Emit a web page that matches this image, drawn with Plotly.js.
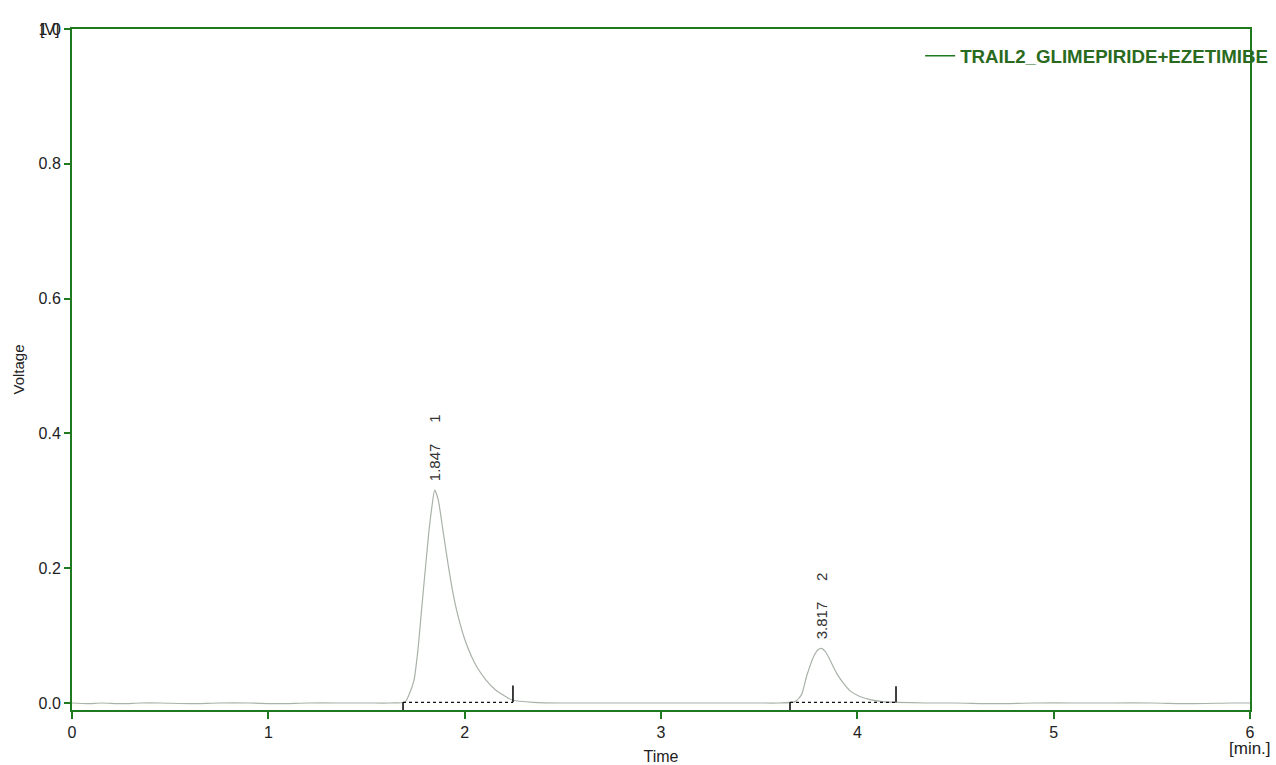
<!DOCTYPE html>
<html>
<head>
<meta charset="utf-8">
<script src="https://cdn.plot.ly/plotly-3.0.1.min.js"></script>
<style>html,body{margin:0;padding:0;background:#fff;}#chart{width:1276px;height:765px;}</style>
</head>
<body>
<div id="chart"></div>
<script>
// Chromatogram trace (time in min, voltage in V)
var timeMin = [0, 0.08, 0.15, 0.25, 0.35, 0.45, 0.6, 0.75, 0.9, 1.05, 1.2, 1.35, 1.5, 1.62,
  1.696, 1.716, 1.742, 1.762, 1.781, 1.800, 1.818, 1.834, 1.847, 1.865, 1.890, 1.916, 1.946,
  1.976, 2.002, 2.035, 2.063, 2.109, 2.155, 2.206, 2.246, 2.35, 2.5, 2.7, 2.9, 3.1, 3.3, 3.5,
  3.6, 3.683, 3.715, 3.742, 3.776, 3.800, 3.817, 3.835, 3.852, 3.895, 3.930, 3.963, 4.010,
  4.065, 4.130, 4.197, 4.35, 4.5, 4.7, 4.9, 5.1, 5.3, 5.5, 5.7, 5.9, 6.0];
var voltage = [0.000, -0.001, 0.000, -0.001, 0.000, 0.000, -0.001, 0.000, 0.000, -0.001, 0.000, 0.000, 0.000, 0.000,
  0.0015, 0.012, 0.034, 0.079, 0.140, 0.200, 0.255, 0.293, 0.316, 0.302, 0.255, 0.205, 0.155,
  0.118, 0.093, 0.069, 0.053, 0.034, 0.020, 0.010, 0.004, 0.001, 0.000, 0.000, 0.000, 0.000, 0.000, 0.000,
  0.000, 0.002, 0.012, 0.040, 0.068, 0.079, 0.081, 0.077, 0.069, 0.044, 0.029, 0.018, 0.010,
  0.005, 0.002, 0.001, 0.000, 0.000, -0.001, 0.000, 0.000, 0.000, 0.000, -0.001, 0.000, 0.000];

// Peak table
var peakNumber = ["1", "2"];
var peakTime = [1.847, 3.817];
var peakHeight = [0.316, 0.081];
var peakStart = [1.686, 3.657];
var peakEnd = [2.246, 4.197];
var baselineLevel = [0.001, 0.001];
var startMarkLow = [-0.012, -0.012];
var endMarkHigh = [0.026, 0.025];

var seriesName = "TRAIL2_GLIMEPIRIDE+EZETIMIBE";
var xTicks = [0, 1, 2, 3, 4, 5, 6];
var yTicks = [0.0, 0.2, 0.4, 0.6, 0.8, 1.0];
var yTickText = ["0.0", "0.2", "0.4", "0.6", "0.8", "1.0"];

var green = "#1f7a1f";
var traces = [{
  x: timeMin, y: voltage, type: "scatter", mode: "lines",
  line: {color: "#a9b2a9", width: 1.2, shape: "spline", smoothing: 0.6},
  showlegend: false, hoverinfo: "skip"
}];
// integration baselines
for (var i = 0; i < peakTime.length; i++) {
  traces.push({
    x: [peakStart[i], peakEnd[i]], y: [baselineLevel[i], baselineLevel[i]],
    type: "scatter", mode: "lines",
    line: {color: "#111", width: 1.3, dash: "dot"}, showlegend: false, hoverinfo: "skip"
  });
  traces.push({
    x: [peakStart[i], peakStart[i]], y: [baselineLevel[i], startMarkLow[i]],
    type: "scatter", mode: "lines", line: {color: "#111", width: 1.6},
    showlegend: false, hoverinfo: "skip", cliponaxis: false
  });
  traces.push({
    x: [peakEnd[i], peakEnd[i]], y: [baselineLevel[i], endMarkHigh[i]],
    type: "scatter", mode: "lines", line: {color: "#111", width: 1.6},
    showlegend: false, hoverinfo: "skip"
  });
}
// legend entry
traces.push({
  x: [null], y: [null], type: "scatter", mode: "lines", name: seriesName,
  line: {color: green, width: 1.5}, showlegend: true
});

var annotations = [];
for (var j = 0; j < peakTime.length; j++) {
  annotations.push({
    x: peakTime[j], y: peakHeight[j], xref: "x", yref: "y",
    text: peakTime[j].toFixed(3) + "\u00a0\u00a0\u00a0\u00a0\u00a0" + peakNumber[j],
    textangle: -90, showarrow: false, xanchor: "center", yanchor: "bottom", yshift: 7,
    font: {family: "Liberation Sans, Arial, sans-serif", size: 15, color: "#333"}
  });
}
annotations.push({
  x: 0, y: 1, xref: "paper", yref: "paper", text: "[V]", showarrow: false,
  xanchor: "right", yanchor: "middle", xshift: -10, yshift: 0,
  font: {family: "Liberation Sans, Arial, sans-serif", size: 16, color: "#222"}
});
annotations.push({
  x: 1, y: 0, xref: "paper", yref: "paper", text: "[min.]", showarrow: false,
  xanchor: "center", yanchor: "top", yshift: -27,
  font: {family: "Liberation Sans, Arial, sans-serif", size: 17, color: "#222"}
});

var layout = {
  width: 1276, height: 765,
  margin: {l: 72, r: 26, t: 29, b: 55, autoexpand: false},
  paper_bgcolor: "#fff", plot_bgcolor: "#fff",
  font: {family: "Liberation Sans, Arial, sans-serif", size: 16, color: "#222"},
  xaxis: {
    range: [0, 6], tickvals: xTicks, ticks: "outside", ticklen: 7, tickwidth: 2, tickcolor: green,
    showline: true, linecolor: green, linewidth: 2, mirror: true, showgrid: false, zeroline: false,
    title: {text: "Time", font: {size: 16, color: "#222"}, standoff: 16},
    tickfont: {size: 16, color: "#222"}
  },
  yaxis: {
    range: [-0.0104, 1.0], tickvals: yTicks, ticktext: yTickText, ticks: "outside", ticklen: 6, tickwidth: 2,
    tickcolor: green, showline: true, linecolor: green, linewidth: 2, mirror: true,
    showgrid: false, zeroline: false,
    title: {text: "Voltage", font: {size: 15, color: "#222"}, standoff: 10},
    tickfont: {size: 16, color: "#222"}
  },
  showlegend: true,
  legend: {
    x: 0.72, y: 0.988, xanchor: "left", yanchor: "top", bgcolor: "rgba(0,0,0,0)",
    font: {size: 18.7, color: "#2a6a1e", family: "Liberation Sans, Arial, sans-serif", weight: "bold"}
  },
  annotations: annotations
};

Plotly.newPlot("chart", traces, layout, {displayModeBar: false, staticPlot: true});
</script>
</body>
</html>
